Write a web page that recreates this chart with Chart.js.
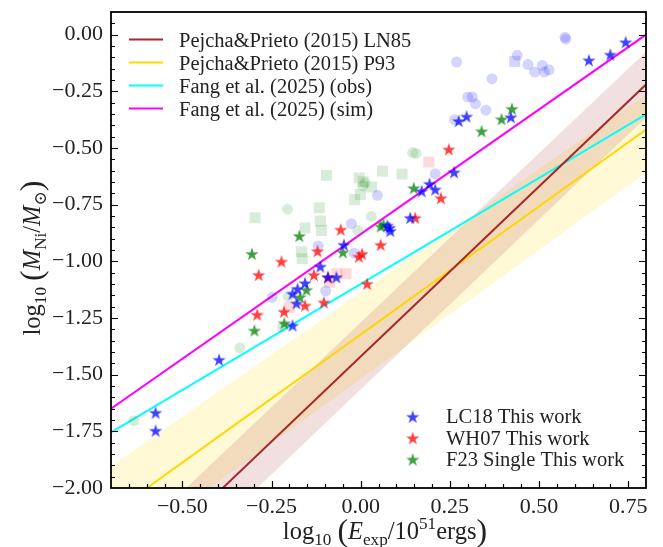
<!DOCTYPE html>
<html>
<head>
<meta charset="utf-8">
<script src="https://cdn.jsdelivr.net/npm/chart.js@4.4.1/dist/chart.umd.min.js"></script>
<style>
html, body { margin: 0; padding: 0; background: #fff; }
#wrap { width: 663px; height: 547px; position: relative; }
</style>
</head>
<body>
<div id="wrap"><canvas id="myChart"></canvas></div>
<script>
const SERIF = '"Liberation Serif", "DejaVu Serif", serif';

// axis ranges and ticks
const xMin = -0.7, xMax = 0.8;
const yMin = -2.0, yMax = 0.1;
const xTicks = [-0.5, -0.25, 0, 0.25, 0.5, 0.75];
const yTicks = [-2.0, -1.75, -1.5, -1.25, -1.0, -0.75, -0.5, -0.25, 0.0];
const minorStep = 0.05;

// fit relations
const fitLabels = ['Pejcha&Prieto (2015) LN85', 'Pejcha&Prieto (2015) P93', 'Fang et al. (2025) (obs)', 'Fang et al. (2025) (sim)'];
const fitSlopes = [1.5, 1.13, 0.935, 1.1];
const fitIntercepts = [-1.42, -1.323, -1.10, -0.88];
const fitColors = ['#a52a2a', '#ffd700', '#00ffff', '#ff00ff'];
// scatter bands (offsets at xMin, xMax) for the two Pejcha&Prieto fits
const bandUpper = [[0.155, 0.145], [0.21, 0.155]];
const bandLower = [[-0.145, -0.145], [-0.2, -0.19]];
const bandColors = ['rgba(165,42,42,0.15)', 'rgba(255,215,0,0.16)'];

// this work
const lc18X = [0.743, 0.640, 0.700, 0.275, 0.297, 0.421, 0.262, 0.193, 0.171, 0.209, 0.139, 0.075, 0.081, 0.083, -0.047, -0.113, -0.068, -0.092, -0.156, -0.177, -0.191, -0.180, -0.191, -0.397, -0.575, -0.575];
const lc18Y = [-0.033, -0.113, -0.088, -0.381, -0.361, -0.364, -0.607, -0.658, -0.690, -0.683, -0.808, -0.842, -0.852, -0.866, -0.927, -1.023, -1.070, -1.070, -1.096, -1.121, -1.143, -1.185, -1.283, -1.434, -1.668, -1.747];
const wh07X = [0.247, 0.225, 0.153, 0.056, -0.056, 0.004, -0.005, -0.121, -0.222, -0.286, -0.131, -0.091, 0.018, -0.103, -0.156, -0.215, -0.290];
const wh07Y = [-0.506, -0.721, -0.808, -0.927, -0.860, -0.967, -0.979, -0.955, -1.001, -1.060, -1.060, -1.070, -1.099, -1.181, -1.195, -1.222, -1.235];
const f23X = [0.424, 0.395, 0.339, 0.149, 0.056, 0.064, -0.172, -0.305, -0.050, -0.152, -0.170, -0.214, -0.298];
const f23Y = [-0.327, -0.373, -0.426, -0.677, -0.846, -0.837, -0.888, -0.967, -0.960, -1.126, -1.158, -1.273, -1.305];

// background samples (faint)
const bgBlueX = [0.573, 0.575, 0.439, 0.469, 0.488, 0.509, 0.515, 0.528, 0.269, 0.368, 0.300, 0.313, 0.322, 0.351, 0.263, 0.209, 0.047, -0.026, -0.119, -0.018, -0.098, -0.248];
const bgBlueY = [-0.011, -0.020, -0.091, -0.132, -0.165, -0.136, -0.165, -0.155, -0.121, -0.194, -0.275, -0.275, -0.305, -0.333, -0.375, -0.614, -0.709, -0.834, -0.932, -0.964, -1.131, -1.159];
const bgBlueSqX = [0.432];
const bgBlueSqY = [-0.118];
const bgGreenX = [-0.205, 0.030, -0.008, 0.006, 0.012, 0.146, 0.155, -0.636, -0.339, -0.219, -0.203];
const bgGreenY = [-0.770, -0.802, -0.864, -0.668, -0.655, -0.520, -0.524, -1.703, -1.382, -1.291, -1.155];
const bgGreenSqX = [-0.096, -0.004, 0.007, 0.061, 0.116, 0.031, -0.001, -0.017, -0.116, -0.296, -0.156, -0.113, -0.110, -0.166, -0.164];
const bgGreenSqY = [-0.621, -0.632, -0.648, -0.602, -0.615, -0.672, -0.705, -0.728, -0.764, -0.808, -0.853, -0.822, -0.864, -0.958, -0.988];
const bgRedSqX = [0.191, -0.067, -0.041, -0.087, -0.200];
const bgRedSqY = [-0.562, -1.055, -1.055, -1.092, -1.203];

const starLabels = ['LC18 This work', 'WH07 This work', 'F23 Single This work'];
const starColors = ['rgba(0,0,255,0.75)', 'rgba(255,0,0,0.75)', 'rgba(0,128,0,0.75)'];

function pts(xs, ys) {
    return xs.map((x, i) => ({ x: x, y: ys[i] }));
}

function fitAt(i, x) {
    return fitSlopes[i] * x + fitIntercepts[i];
}

function makeStar(color, r) {
    const s = Math.ceil(r * 2 + 2);
    const c = document.createElement('canvas');
    c.width = s;
    c.height = s;
    const g = c.getContext('2d');
    g.beginPath();
    for (let k = 0; k < 10; k++) {
        const rad = k % 2 ? r * 0.39 : r;
        const a = -Math.PI / 2 + k * Math.PI / 5;
        g.lineTo(s / 2 + rad * Math.cos(a), s / 2 + 0.6 + rad * Math.sin(a));
    }
    g.closePath();
    g.fillStyle = color;
    g.fill();
    return c;
}

const stars = starColors.map(c => makeStar(c, 7));

function fmt(v) {
    const a = Math.abs(v).toFixed(2);
    return v < -1e-9 ? '\u2212' + a : a;
}

const datasets = [];

// bands
[0, 1].forEach(i => {
    datasets.push({
        type: 'line',
        data: [{ x: xMin, y: fitAt(i, xMin) + bandUpper[i][0] }, { x: xMax, y: fitAt(i, xMax) + bandUpper[i][1] }],
        borderWidth: 0, pointRadius: 0, fill: '+1', backgroundColor: bandColors[i], order: 5, clip: 0
    });
    datasets.push({
        type: 'line',
        data: [{ x: xMin, y: fitAt(i, xMin) + bandLower[i][0] }, { x: xMax, y: fitAt(i, xMax) + bandLower[i][1] }],
        borderWidth: 0, pointRadius: 0, fill: false, order: 5, clip: 0
    });
});

// fit lines
fitLabels.forEach((lab, i) => {
    datasets.push({
        type: 'line',
        label: lab,
        data: [{ x: xMin, y: fitAt(i, xMin) }, { x: xMax, y: fitAt(i, xMax) }],
        borderColor: fitColors[i],
        borderWidth: 2,
        pointRadius: 0,
        fill: false,
        order: 3,
        clip: 0
    });
});

// faint background points
const faint = [
    [bgBlueX, bgBlueY, 'circle', 'rgba(0,0,255,0.17)', 5.5],
    [bgBlueSqX, bgBlueSqY, 'rect', 'rgba(0,0,255,0.17)', 7.8],
    [bgGreenX, bgGreenY, 'circle', 'rgba(0,128,0,0.15)', 5.5],
    [bgGreenSqX, bgGreenSqY, 'rect', 'rgba(0,128,0,0.15)', 7.8],
    [bgRedSqX, bgRedSqY, 'rect', 'rgba(255,0,0,0.15)', 7.8]
];
faint.forEach(f => {
    datasets.push({
        type: 'scatter',
        data: pts(f[0], f[1]),
        pointStyle: f[2],
        pointRadius: f[4],
        backgroundColor: f[3],
        borderWidth: 0,
        order: 2
    });
});

// this work stars
[[lc18X, lc18Y], [wh07X, wh07Y], [f23X, f23Y]].forEach((s, i) => {
    datasets.push({
        type: 'scatter',
        label: starLabels[i],
        data: pts(s[0], s[1]),
        pointStyle: stars[i],
        pointRadius: 7,
        order: 1
    });
});

function drawRich(ctx, segs, size, cx, baseY) {
    const fontOf = s => (s.it ? 'italic ' : '') + (size * (s.sc || 1)) + 'px ' + SERIF;
    let w = 0;
    segs.forEach(s => { ctx.font = fontOf(s); w += ctx.measureText(s.t).width; });
    let x = cx - w / 2;
    ctx.textAlign = 'left';
    ctx.textBaseline = 'alphabetic';
    segs.forEach(s => {
        ctx.font = fontOf(s);
        ctx.fillText(s.t, x, baseY + (s.dy || 0) * size);
        x += ctx.measureText(s.t).width;
    });
}

const yTitle = [
    { t: 'log' }, { t: '10', sc: 0.7, dy: 0.25 }, { t: ' ' }, { t: '(', sc: 1.3, dy: 0.1 },
    { t: 'M', it: true }, { t: 'Ni', sc: 0.7, dy: 0.25 }, { t: '/' },
    { t: 'M', it: true }, { t: '\u2299', sc: 0.7, dy: 0.25 }, { t: ')', sc: 1.3, dy: 0.1 }
];
const xTitle = [
    { t: 'log' }, { t: '10', sc: 0.7, dy: 0.25 }, { t: ' ' }, { t: '(', sc: 1.3, dy: 0.1 },
    { t: 'E', it: true }, { t: 'exp', sc: 0.7, dy: 0.25 }, { t: '/10' },
    { t: '51', sc: 0.7, dy: -0.4 }, { t: 'ergs' }, { t: ')', sc: 1.3, dy: 0.1 }
];

const decorPlugin = {
    id: 'decor',
    afterDraw(chart) {
        const ctx = chart.ctx;
        const a = chart.chartArea;
        const sx = chart.scales.x, sy = chart.scales.y;
        ctx.save();
        ctx.strokeStyle = '#000';

        // inward ticks
        ctx.lineWidth = 1.2;
        ctx.beginPath();
        for (let v = Math.ceil(xMin / minorStep) * minorStep; v <= xMax + 1e-9; v += minorStep) {
            const major = xTicks.some(t => Math.abs(t - v) < 1e-6);
            const px = Math.round(sx.getPixelForValue(v)) + 0.5;
            if (px <= a.left + 1 || px >= a.right - 1) continue;
            ctx.moveTo(px, a.bottom);
            ctx.lineTo(px, a.bottom - (major ? 7 : 4));
        }
        for (let v = Math.ceil(yMin / minorStep) * minorStep; v <= yMax + 1e-9; v += minorStep) {
            const major = yTicks.some(t => Math.abs(t - v) < 1e-6);
            const py = Math.round(sy.getPixelForValue(v)) + 0.5;
            if (py <= a.top + 1 || py >= a.bottom - 1) continue;
            const len = major ? 7 : 4;
            ctx.moveTo(a.left, py);
            ctx.lineTo(a.left + len, py);
            ctx.moveTo(a.right, py);
            ctx.lineTo(a.right - len, py);
        }
        ctx.stroke();

        // frame
        ctx.lineWidth = 1.8;
        ctx.strokeRect(a.left, a.top, a.right - a.left, a.bottom - a.top);

        // legend with fit lines (upper left)
        ctx.fillStyle = '#222';
        ctx.font = '20.5px ' + SERIF;
        ctx.textAlign = 'left';
        ctx.textBaseline = 'alphabetic';
        fitLabels.forEach((lab, i) => {
            const ly = 39.5 + i * 23;
            ctx.strokeStyle = fitColors[i];
            ctx.lineWidth = 2;
            ctx.beginPath();
            ctx.moveTo(129, ly);
            ctx.lineTo(163, ly);
            ctx.stroke();
            ctx.fillText(lab, 179, ly + 7);
        });

        // legend with stars (lower right)
        starLabels.forEach((lab, i) => {
            const ly = 416.7 + i * 21.4;
            const img = stars[i];
            ctx.drawImage(img, 412.7 - img.width / 2, ly - img.height / 2);
            ctx.fillText(lab, 446, ly + 6.5);
        });

        // axis titles
        drawRich(ctx, xTitle, 24.5, 385, 539);
        ctx.translate(40, 258);
        ctx.rotate(-Math.PI / 2);
        drawRich(ctx, yTitle, 24.5, 0, 0);
        ctx.restore();
    }
};

const ctx = document.getElementById('myChart').getContext('2d');
const niChart = new Chart(ctx, {
    type: 'scatter',
    data: { datasets: datasets },
    options: {
        responsive: true,
        maintainAspectRatio: false,
        animation: false,
        layout: {
            padding: { left: 0, right: 17, top: 12, bottom: 0 }
        },
        plugins: {
            legend: { display: false },
            tooltip: { enabled: false }
        },
        scales: {
            x: {
                type: 'linear',
                position: 'bottom',
                min: xMin,
                max: xMax,
                grid: { display: false, drawTicks: false },
                border: { display: false },
                afterBuildTicks: axis => { axis.ticks = xTicks.map(v => ({ value: v })); },
                afterFit: axis => {
                    axis.height = 59;
                    axis.paddingLeft = 0;
                    axis.paddingRight = 0;
                },
                ticks: {
                    padding: 6,
                    color: '#222',
                    maxRotation: 0,
                    autoSkip: false,
                    font: { family: SERIF, size: 22 },
                    callback: v => fmt(v)
                }
            },
            y: {
                type: 'linear',
                min: yMin,
                max: yMax,
                grid: { display: false, drawTicks: false },
                border: { display: false },
                afterBuildTicks: axis => { axis.ticks = yTicks.map(v => ({ value: v })); },
                afterFit: axis => {
                    axis.width = 111;
                    axis.paddingTop = 0;
                    axis.paddingBottom = 0;
                },
                ticks: {
                    padding: 8,
                    color: '#222',
                    autoSkip: false,
                    font: { family: SERIF, size: 22 },
                    callback: v => fmt(v)
                }
            }
        }
    },
    plugins: [decorPlugin]
});
</script>
</body>
</html>
